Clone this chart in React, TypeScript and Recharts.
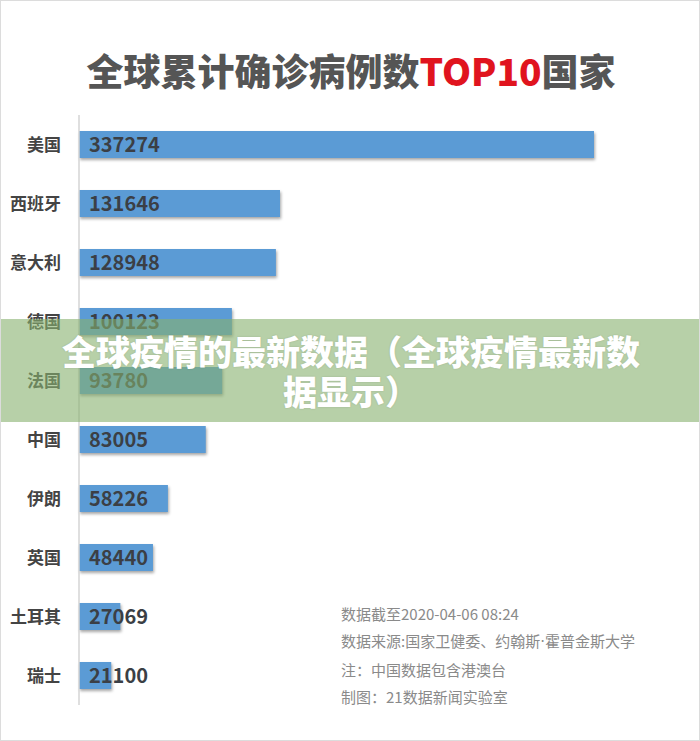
import React from "react";
import { BarChart, Bar, XAxis, YAxis, LabelList } from "recharts";

const countries = ["美国", "西班牙", "意大利", "德国", "法国", "中国", "伊朗", "英国", "土耳其", "瑞士"];
const cases = [337274, 131646, 128948, 100123, 93780, 83005, 58226, 48440, 27069, 21100];
const titleParts = ["全球累计确诊病例数", "TOP10", "国家"];
const notes = [
  ["数据截至2020-04-06 08:24"],
  ["数据来源:国家卫健委、约翰斯", "·", "霍普金斯大学"],
  ["注：中国数据包含港澳台"],
  ["制图：21数据新闻实验室"],
];
const bannerLines = ["全球疫情的最新数据（全球疫情最新数", "据显示）"];

const data = countries.map((name, i) => ({ name, value: cases[i] }));

const FONT = '"Noto Sans CJK SC", "Noto Sans", sans-serif';

const BarShape = (props: any) => {
  const { x, y, width, height } = props;
  return (
    <rect
      x={x}
      y={y}
      width={width}
      height={height}
      fill="#5b9bd5"
      style={{ filter: "drop-shadow(1px 2px 1.5px rgba(0,0,0,0.35))" }}
    />
  );
};

const ValueLabel = (props: any) => {
  const { x, y, height, value } = props;
  return (
    <text
      x={x + 10}
      y={y + height / 2}
      dy="0.36em"
      fill="#3b3f45"
      fontSize={20}
      fontWeight={700}
      fontFamily={FONT}
    >
      {value}
    </text>
  );
};

const CountryTick = (props: any) => {
  const { x, y, payload } = props;
  return (
    <text
      x={x - 10}
      y={y}
      dy="0.36em"
      textAnchor="end"
      fill="#444"
      fontSize={17}
      fontWeight={700}
      fontFamily={FONT}
    >
      {payload.value}
    </text>
  );
};

export default function App() {
  return (
    <div
      style={{
        position: "absolute",
        left: 0,
        top: 0,
        width: 700,
        height: 741,
        background: "#fff",
        boxSizing: "border-box",
        border: "1px solid #dcdcdc",
        fontFamily: FONT,
        overflow: "hidden",
      }}
    >
      <div
        style={{
          position: "absolute",
          left: 0,
          top: 44,
          width: 700,
          textAlign: "center",
          fontSize: 37,
          fontWeight: 900,
          color: "#555",
          lineHeight: "50px",
          letterSpacing: 0,
        }}
      >
        {titleParts[0]}
        <span style={{ color: "#e0141e" }}>{titleParts[1]}</span>
        {titleParts[2]}
      </div>
      <div style={{ position: "absolute", left: -1, top: -1 }}>
        <BarChart
          width={700}
          height={741}
          layout="vertical"
          data={data}
          margin={{ top: 115, right: 106, bottom: 36, left: 0 }}
          barSize={27}
        >
          <XAxis type="number" hide domain={[0, 337274]} />
          <YAxis
            type="category"
            dataKey="name"
            width={79}
            axisLine={{ stroke: "#d4d4d4", strokeWidth: 1.5 }}
            tickLine={false}
            tick={<CountryTick />}
            interval={0}
          />
          <Bar dataKey="value" shape={<BarShape />} isAnimationActive={false}>
            <LabelList dataKey="value" content={<ValueLabel />} />
          </Bar>
        </BarChart>
      </div>
      <div
        style={{
          position: "absolute",
          left: 340,
          top: 599,
          fontSize: 15,
          color: "#8a8a8a",
          lineHeight: "27px",
        }}
      >
        {notes.map((n, i) => (
          <div key={i}>
            {n.map((part, j) =>
              part === "·" ? (
                <span key={j} style={{ fontFamily: '"DejaVu Sans", sans-serif' }}>
                  {part}
                </span>
              ) : (
                <span key={j}>{part}</span>
              )
            )}
          </div>
        ))}
      </div>
      <div
        style={{
          position: "absolute",
          left: 0,
          top: 318,
          width: 700,
          height: 103,
          background: "rgba(135,177,110,0.6)",
          display: "flex",
          flexDirection: "column",
          alignItems: "center",
          justifyContent: "center",
          color: "#fff",
          fontSize: 34,
          fontWeight: 900,
          lineHeight: "40px",
          textShadow: "0 0 2px rgba(0,0,0,0.15)",
        }}
      >
        {bannerLines.map((l, i) => (
          <div key={i}>{l}</div>
        ))}
      </div>
    </div>
  );
}
